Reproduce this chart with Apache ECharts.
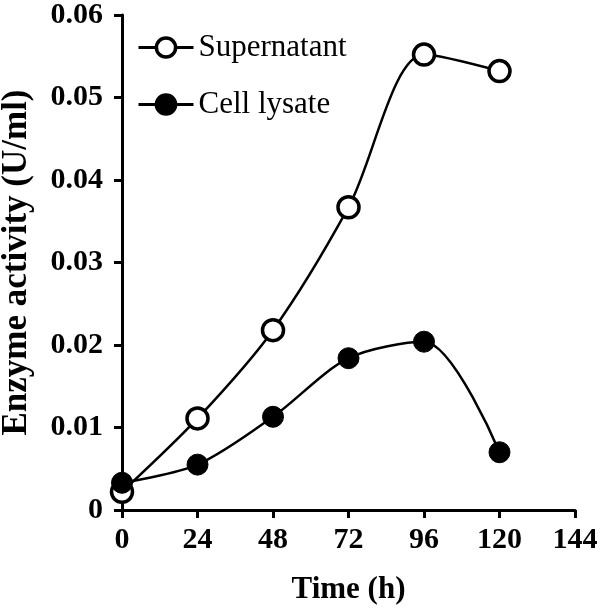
<!DOCTYPE html>
<html><head><meta charset="utf-8">
<script src="https://cdn.jsdelivr.net/npm/echarts@6/dist/echarts.min.js"></script>
<style>html,body{margin:0;padding:0;background:#fff}#c{width:600px;height:613px}</style>
</head><body><div id="c"></div>
<script>
const times = [0, 24, 48, 72, 96, 120];
const supernatant = [0.0022, 0.0111, 0.0218, 0.0367, 0.0552, 0.0532];
const cellLysate = [0.0033, 0.0055, 0.0113, 0.0184, 0.0204, 0.0070];
const xTicks = [0, 24, 48, 72, 96, 120, 144];
const yTicks = [0, 0.01, 0.02, 0.03, 0.04, 0.05, 0.06];

const font = 'Liberation Serif';
const pair = (xs, ys) => xs.map((x, i) => [x, ys[i]]);
const chart = echarts.init(document.getElementById('c'));
chart.setOption({
  animation: false,
  backgroundColor: '#fff',
  grid: {left: 122, right: 25, top: 15, bottom: 103, containLabel: false, outerBoundsMode: 'none'},
  legend: {
    orient: 'vertical', left: 132, top: 27, itemGap: 26, itemWidth: 55, itemHeight: 24,
    lineStyle: {width: 3},
    itemStyle: {borderWidth: 3.5},
    textStyle: {fontFamily: font, fontSize: 31, color: '#000', padding: [0,0,0,0]},
    data: ['Supernatant', 'Cell lysate']
  },
  xAxis: {
    type: 'value', min: 0, max: 144, interval: 24,
    name: 'Time (h)', nameLocation: 'middle', nameGap: 64,
    nameTextStyle: {fontFamily: font, fontSize: 31, fontWeight: 'bold', color: '#000'},
    axisLine: {show: true, lineStyle: {color: '#000', width: 3}},
    axisTick: {show: true, length: 8, lineStyle: {color: '#000', width: 3}},
    axisLabel: {fontFamily: font, fontSize: 30, fontWeight: 'bold', color: '#000', margin: 15,
      formatter: v => xTicks.includes(v) ? String(v) : ''},
    splitLine: {show: false}
  },
  yAxis: {
    type: 'value', min: 0, max: 0.06, interval: 0.01,
    name: 'Enzyme activity (U/ml)', nameLocation: 'middle', nameGap: 88,
    nameTextStyle: {fontFamily: font, fontSize: 35, fontWeight: 'bold', color: '#000'},
    axisLine: {show: true, lineStyle: {color: '#000', width: 3}},
    axisTick: {show: true, length: 8, lineStyle: {color: '#000', width: 3}},
    axisLabel: {fontFamily: font, fontSize: 30, fontWeight: 'bold', color: '#000', margin: 19,
      formatter: v => { const t = yTicks.find(k => Math.abs(k - v) < 1e-9); return t === 0 ? '0' : t.toFixed(2); }},
    splitLine: {show: false}
  },
  series: [
    {
      name: 'Supernatant', type: 'line', smooth: 0.3, data: pair(times, supernatant),
      symbol: 'circle', symbolSize: 21, z: 3,
      lineStyle: {color: '#000', width: 2.5},
      itemStyle: {color: '#fff', borderColor: '#000', borderWidth: 3.5}
    },
    {
      name: 'Cell lysate', type: 'line', smooth: 0.3, data: pair(times, cellLysate),
      symbol: 'circle', symbolSize: 21, z: 4,
      lineStyle: {color: '#000', width: 2.5},
      itemStyle: {color: '#000', borderColor: '#000', borderWidth: 1}
    }
  ]
});
</script></body></html>
